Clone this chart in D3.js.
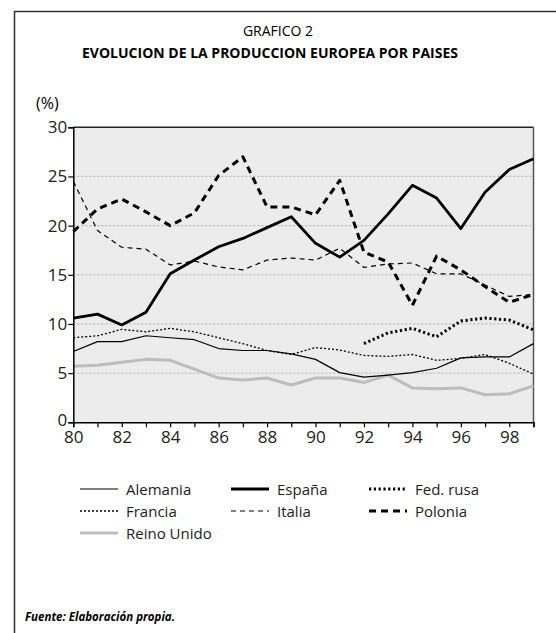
<!DOCTYPE html>
<html>
<head>
<meta charset="utf-8">
<script src="https://cdn.jsdelivr.net/npm/d3@7"></script>
<style>
  body { margin: 0; background: #fff; }
  svg { font-family: "Open Sans", sans-serif; }
</style>
</head>
<body>
<svg width="556" height="633"></svg>
<script>
// Data
var years = d3.range(1980, 2000);
var alemania = [7.2, 8.2, 8.2, 8.8, 8.6, 8.4, 7.5, 7.3, 7.3, 6.95, 6.4, 5.05, 4.6, 4.8, 5.05, 5.5, 6.55, 6.65, 6.65, 8.0];
var espana = [10.6, 11.0, 9.9, 11.2, 15.1, 16.5, 17.85, 18.7, 19.8, 20.9, 18.2, 16.8, 18.5, 21.2, 24.1, 22.8, 19.7, 23.4, 25.7, 26.8];
var fedRusa = [null, null, null, null, null, null, null, null, null, null, null, null, 8.0, 9.1, 9.55, 8.7, 10.3, 10.6, 10.4, 9.4];
var francia = [8.6, 8.8, 9.45, 9.2, 9.55, 9.2, 8.6, 8.0, 7.3, 6.9, 7.6, 7.35, 6.8, 6.7, 6.9, 6.3, 6.5, 6.9, 6.0, 4.9];
var italia = [24.5, 19.5, 17.8, 17.6, 16.0, 16.4, 15.8, 15.5, 16.5, 16.7, 16.5, 17.7, 15.75, 16.1, 16.2, 15.1, 15.1, 13.95, 12.8, 13.0];
var polonia = [19.4, 21.7, 22.7, 21.4, 20.0, 21.3, 25.1, 27.0, 21.9, 21.9, 21.1, 24.6, 17.3, 16.3, 11.9, 16.9, 15.5, 13.8, 12.2, 13.0];
var reinoUnido = [5.7, 5.8, 6.1, 6.4, 6.3, 5.4, 4.5, 4.3, 4.5, 3.8, 4.5, 4.5, 4.05, 4.8, 3.5, 3.4, 3.5, 2.8, 2.9, 3.7];
var yTicks = [0, 5, 10, 15, 20, 25, 30];
var xLabelYears = [1980, 1982, 1984, 1986, 1988, 1990, 1992, 1994, 1996, 1998];

var series = [
  { name: "Alemania", values: alemania, color: "#000", width: 1.2, dash: null },
  { name: "España", values: espana, color: "#000", width: 2.8, dash: null },
  { name: "Fed. rusa", values: fedRusa, color: "#000", width: 3, dash: "2.2,2.6" },
  { name: "Francia", values: francia, color: "#000", width: 1.3, dash: "2,2" },
  { name: "Italia", values: italia, color: "#000", width: 1.2, dash: "5,4" },
  { name: "Polonia", values: polonia, color: "#000", width: 3, dash: "7,5" },
  { name: "Reino Unido", values: reinoUnido, color: "#bdbdbd", width: 3, dash: null }
];

var svg = d3.select("svg");

// outer frame (top and left only)
svg.append("line").attr("x1", 14).attr("x2", 556).attr("y1", 11.5).attr("y2", 11.5)
  .attr("stroke", "#333").attr("stroke-width", 1.5);
svg.append("line").attr("x1", 14.5).attr("x2", 14.5).attr("y1", 11).attr("y2", 633)
  .attr("stroke", "#333").attr("stroke-width", 1.5);

// titles
svg.append("text").attr("x", 278).attr("y", 36).attr("text-anchor", "middle")
  .style("font-size", "14px").text("GRAFICO 2");
svg.append("text").attr("x", 270).attr("y", 58).attr("text-anchor", "middle")
  .style("font-size", "14px").style("font-weight", "bold")
  .text("EVOLUCION DE LA PRODUCCION EUROPEA POR PAISES");
svg.append("text").attr("x", 36).attr("y", 109)
  .style("font-size", "16px").text("(%)");

var margin = { left: 73.3, top: 127.3 };
var width = 533.5 - margin.left;
var height = 422.3 - margin.top;

var x = d3.scaleLinear().domain([1980, 1999]).range([0, width]);
var y = d3.scaleLinear().domain([0, 30]).range([height, 0]);

var chartGroup = svg.append("g")
  .attr("transform", `translate(${margin.left},${margin.top})`);

chartGroup.append("rect")
  .attr("width", width).attr("height", height)
  .attr("fill", "#ececec");

// dotted grid lines
chartGroup.selectAll(".grid")
  .data(yTicks.filter(d => d > 0 && d < 30))
  .enter().append("line")
  .attr("x1", 0).attr("x2", width)
  .attr("y1", d => y(d)).attr("y2", d => y(d))
  .attr("stroke", "#bbb").attr("stroke-width", 1.2)
  .attr("stroke-dasharray", "2,2");

// top and right border
chartGroup.append("line").attr("x1", 0).attr("x2", width).attr("y1", 0).attr("y2", 0)
  .attr("stroke", "#222").attr("stroke-width", 1.5);
chartGroup.append("line").attr("x1", width).attr("x2", width).attr("y1", 0).attr("y2", height)
  .attr("stroke", "#555").attr("stroke-width", 1.5);

// series lines
var line = d3.line()
  .defined(d => d != null)
  .x((d, i) => x(years[i]))
  .y(d => y(d));

series.slice().reverse().forEach(function(s) {
  chartGroup.append("path")
    .datum(s.values)
    .attr("d", line)
    .attr("fill", "none")
    .attr("stroke", s.color)
    .attr("stroke-width", s.width)
    .attr("stroke-dasharray", s.dash)
    .attr("stroke-linejoin", "round");
});

// axes
var bottomAxis = d3.axisBottom(x)
  .tickValues(years)
  .tickSize(5)
  .tickFormat(d => xLabelYears.includes(d) ? String(d).slice(2) : "");
var leftAxis = d3.axisLeft(y)
  .tickValues(yTicks)
  .tickSize(5)
  .tickFormat(d3.format("d"));

var xg = chartGroup.append("g")
  .attr("transform", `translate(0, ${height})`)
  .call(bottomAxis);
var yg = chartGroup.append("g").call(leftAxis);

[xg, yg].forEach(function(g) {
  g.select(".domain").attr("stroke", "#000").attr("stroke-width", 1.5);
  g.selectAll(".tick line").attr("stroke", "#000").attr("stroke-width", 1.2);
  g.selectAll("text").style("font-family", "Open Sans, sans-serif")
    .style("font-size", "17px").attr("fill", "#222");
});
xg.selectAll("text").attr("dy", "0.8em").attr("y", 7);
yg.selectAll("text").attr("x", -6);
// lift the "0" a little so it clears the "80" below
yg.selectAll(".tick").filter(d => d === 0).select("text").attr("dy", "0.2em");

// legend
var legendCols = [80, 231, 369];
var legendRows = [489, 511, 533];
var legend = svg.append("g");
series.forEach(function(s, i) {
  var cx = legendCols[i % 3], cy = legendRows[Math.floor(i / 3)];
  legend.append("line")
    .attr("x1", cx).attr("x2", cx + 38)
    .attr("y1", cy).attr("y2", cy)
    .attr("stroke", s.color)
    .attr("stroke-width", s.width)
    .attr("stroke-dasharray", s.dash);
  legend.append("text")
    .attr("x", cx + 46).attr("y", cy + 5.5)
    .style("font-size", "15px").attr("fill", "#222")
    .text(s.name);
});

svg.append("text").attr("x", 25).attr("y", 621)
  .style("font-size", "11.5px").style("font-weight", "bold").style("font-style", "italic")
  .text("Fuente: Elaboración propia.");
</script>
</body>
</html>
